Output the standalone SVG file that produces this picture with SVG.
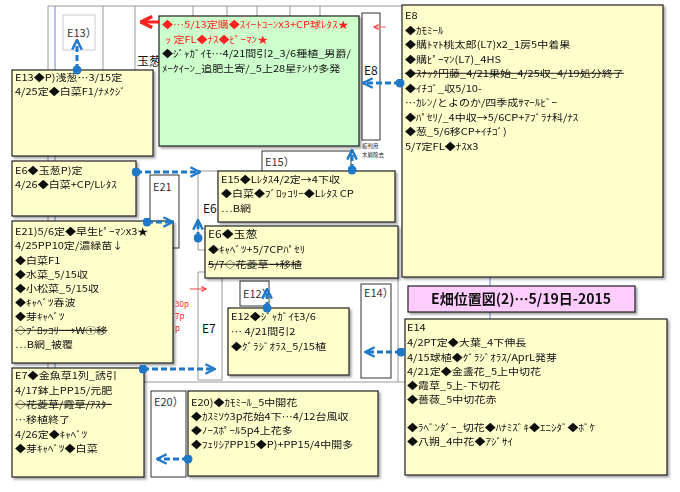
<svg xmlns="http://www.w3.org/2000/svg" width="680" height="492" viewBox="0 0 680 492">
<style>
text{font-family:"Noto Sans CJK JP","Noto Sans CJK SC",sans-serif;font-size:11px;fill:#111}
.tx text{font-size:9.6px}
.note{fill:#ffffcc;stroke:#222;stroke-width:1.2}
.green{fill:#ccffcc;stroke:#222;stroke-width:1.2}
.wbox{fill:#fff;stroke:#333;stroke-width:1}
.grid{stroke:#999;stroke-width:1;fill:none}
.lbl{font-size:11px;fill:#333}
.red{fill:#ff2020}
.strike{text-decoration:line-through}
.conn{stroke:#1f78c8;stroke-width:3;stroke-dasharray:6,3;fill:none;marker-start:url(#dot);marker-end:url(#chev)}
.tiny{font-size:5.5px;fill:#222}
.rp{font-size:8px;fill:#ff2020}
</style>
<defs>
<filter id="sh" x="-5%" y="-5%" width="115%" height="120%">
<feDropShadow dx="2" dy="2" stdDeviation="1.2" flood-color="#000" flood-opacity="0.35"/>
</filter>
<marker id="chev" viewBox="0 0 10 10" refX="9" refY="5" markerWidth="12" markerHeight="12" markerUnits="userSpaceOnUse" orient="auto">
<path d="M1,1 L9,5 L1,9" fill="none" stroke="#1f78c8" stroke-width="2"/>
</marker>
<marker id="dot" viewBox="0 0 10 10" refX="5" refY="5" markerWidth="9" markerHeight="9" markerUnits="userSpaceOnUse">
<circle cx="5" cy="5" r="5" fill="#1f78c8"/>
</marker>
<marker id="rchev" viewBox="0 0 10 10" refX="9" refY="5" markerWidth="14" markerHeight="14" markerUnits="userSpaceOnUse" orient="auto">
<path d="M1,1 L9,5 L1,9" fill="none" stroke="#ff2020" stroke-width="2.4"/>
</marker>
<marker id="rsmall" viewBox="0 0 10 10" refX="9" refY="5" markerWidth="6" markerHeight="6" markerUnits="userSpaceOnUse" orient="auto">
<path d="M1,1 L9,5 L1,9" fill="none" stroke="#ff4040" stroke-width="2"/>
</marker>
</defs>
<rect width="680" height="492" fill="#fff"/>

<g id="background">
<path class="grid" d="M48,6 H402 M48,6 V370 M103,6 V70 M135,6 V70 M193,6 V16 M227,6 V16 M257,6 V16 M290,6 V16 M320,6 V16"/>
<line x1="55" y1="6" x2="55" y2="368" stroke="#7080e0" stroke-width="1"/>
<line x1="490" y1="277" x2="490" y2="319" stroke="#7080e0" stroke-width="1"/>
<path class="grid" d="M144,382 H405 M398,278 V382 M198,171 H218 M198,171 V250 H205 M198,272 V380 H222 V272 Z"/>
<text x="137" y="66" style="font-size:12px">玉葱</text>
<text x="203" y="213" style="font-size:12px">E6</text>
<text x="202" y="333" style="font-size:12px">E7</text>
<text class="rp" x="175" y="307">30p</text>
<text class="rp" x="175" y="319">7p</text>
<text class="rp" x="175" y="331">p</text>
<line x1="190" y1="289" x2="206" y2="289" stroke="#ff4040" stroke-width="1" marker-end="url(#rsmall)"/>
</g>

<g id="E13box"><rect x="63" y="15" width="32" height="35" fill="#fff" stroke="#ccc"/><text class="lbl" x="67" y="37">E13）</text></g>
<g id="E8col"><rect class="wbox" x="362" y="13" width="18" height="127" stroke="#666"/><text x="364" y="75" style="font-size:12px">E8</text>
<line x1="386" y1="27" x2="374" y2="27" stroke="#ff6060" stroke-width="1" marker-end="url(#rsmall)"/>
<text class="tiny" x="362" y="148">板判用</text><text class="tiny" x="362" y="157">木屑除去</text></g>
<g id="E15box"><rect class="wbox" x="262" y="151" width="89" height="30"/><text class="lbl" x="265" y="166">E15）</text></g>
<g id="E21box"><rect class="wbox" x="150" y="175" width="29" height="73"/><text class="lbl" x="153" y="191">E21</text></g>
<g id="E12box"><rect class="wbox" x="240" y="281" width="29" height="25"/><text class="lbl" x="243" y="298">E12）</text></g>
<g id="E14box"><rect class="wbox" x="361" y="284" width="30" height="94"/><text class="lbl" x="364" y="297">E14）</text></g>
<g id="E20box"><rect class="wbox" x="151" y="391" width="35" height="86"/><text class="lbl" x="154" y="406">E20）</text></g>

<g id="green" filter="url(#sh)">
<rect class="green" x="159" y="16" width="200" height="130"/>
<g class="tx" transform="translate(162,0) scale(1.15,1)">
<text class="red" y="28">◆…5/13定購◆ｽｲｰﾄｺｰﾝx3+CP球ﾚﾀｽ★</text>
<text class="red" x="3" y="43">ｯ 定FL◆ﾅｽ◆ﾋﾟｰﾏﾝ★</text>
<text y="57">◆ｼﾞｬｶﾞｲﾓ…4/21間引2_3/6種植_男爵/</text>
<text y="72">ﾒｰｸｲｰﾝ_追肥土寄/_5上28星ﾃﾝﾄｳ多発</text>
</g>
</g>

<g id="E8" filter="url(#sh)">
<rect class="note" x="402" y="5" width="261" height="272"/>
<g class="tx" transform="translate(405,0) scale(1.15,1)">
<text y="19">E8</text>
<text y="34">◆ｶﾓﾐｰﾙ</text>
<text y="48">◆購ﾄﾏﾄ桃太郎(L7)x2_1房5中着果</text>
<text y="63">◆購ﾋﾟｰﾏﾝ(L7)_4HS</text>
<text class="strike" y="77">◆ｽﾅｯｸ円藤_4/21果始_4/25収_4/19処分終了</text>
<text y="92">◆ｲﾁｺﾞ_収5/10-</text>
<text y="106">…ｶﾚﾝ/とよのか/四季成ｻﾏｰﾙﾋﾞｰ</text>
<text y="121">◆ﾊﾟｾﾘ/_4中収→5/6CP+ｱﾌﾞﾗﾅ科/ﾅｽ</text>
<text y="135">◆葱_5/6移CP+ｲﾁｺﾞ)</text>
<text y="150">5/7定FL◆ﾅｽx3</text>
</g>
</g>

<g id="E13" filter="url(#sh)">
<rect class="note" x="12" y="70" width="141" height="86"/>
<g class="tx" transform="translate(15,0) scale(1.15,1)">
<text y="81">E13◆P)浅葱…3/15定</text>
<text y="95">4/25定◆白菜F1/ﾅﾒｸｼﾞ</text>
</g>
</g>

<g id="E6left" filter="url(#sh)">
<rect class="note" x="12" y="161" width="124" height="55"/>
<g class="tx" transform="translate(15,0) scale(1.15,1)">
<text y="174">E6◆玉葱P)定</text>
<text y="188">4/26◆白菜+CP/Lﾚﾀｽ</text>
</g>
</g>

<g id="E15" filter="url(#sh)">
<rect class="note" x="218" y="171" width="177" height="51"/>
<g class="tx" transform="translate(221,0) scale(1.15,1)">
<text y="183">E15◆Lﾚﾀｽ4/2定→4下収</text>
<text y="197">◆白菜◆ﾌﾞﾛｯｺﾘｰ◆Lﾚﾀｽ CP</text>
<text y="212">…B網</text>
</g>
</g>

<g id="E6" filter="url(#sh)">
<rect class="note" x="205" y="226" width="193" height="52"/>
<g class="tx" transform="translate(208,0) scale(1.15,1)">
<text y="238" style="font-size:10.4px">E6◆玉葱</text>
<text y="253">◆ｷｬﾍﾞﾂ+5/7CPﾊﾟｾﾘ</text>
<text class="strike" y="268">5/7◇花菱草→移植</text>
</g>
</g>

<g id="E21" filter="url(#sh)">
<rect class="note" x="12" y="221" width="161" height="142"/>
<g class="tx" transform="translate(15,0) scale(1.15,1)">
<text y="235">E21)5/6定◆早生ﾋﾟｰﾏﾝx3★</text>
<text y="249">4/25PP10定/濃緑苗↓</text>
<text y="264">◆白菜F1</text>
<text y="278">◆水菜_5/15収</text>
<text y="292">◆小松菜_5/15収</text>
<text y="306">◆ｷｬﾍﾞﾂ春波</text>
<text y="320">◆芽ｷｬﾍﾞﾂ</text>
<text class="strike" y="334">◇ﾌﾞﾛｯｺﾘｰ→W①移</text>
<text y="348">…B網_被覆</text>
</g>
</g>

<g id="E12" filter="url(#sh)">
<rect class="note" x="228" y="308" width="121" height="67"/>
<g class="tx" transform="translate(231,0) scale(1.15,1)">
<text y="320">E12◆ｼﾞｬｶﾞｲﾓ3/6</text>
<text y="335">… 4/21間引2</text>
<text y="350">◆ｸﾞﾗｼﾞｵﾗｽ_5/15植</text>
</g>
</g>

<g id="title" filter="url(#sh)">
<rect x="408" y="286" width="227" height="26" fill="#ffccff" stroke="#222" stroke-width="1.2"/>
<text x="521" y="304" text-anchor="middle" style="font-size:14px;font-weight:bold">E畑位置図(2)…5/19日-2015</text>
</g>

<g id="E14" filter="url(#sh)">
<rect class="note" x="405" y="319" width="262" height="156"/>
<g class="tx" transform="translate(407,0) scale(1.15,1)">
<text y="331">E14</text>
<text y="346">4/2PT定◆大葉_4下伸長</text>
<text y="361">4/15球植◆ｸﾞﾗｼﾞｵﾗｽ/AprL発芽</text>
<text y="375">4/21定◆金盞花_5上中切花</text>
<text y="389">◆霞草_5上-下切花</text>
<text y="403">◆薔薇_5中切花赤</text>
<text y="431">◆ﾗﾍﾞﾝﾀﾞｰ_切花◆ﾊﾅﾐｽﾞｷ◆ｴﾆｼﾀﾞ◆ﾎﾞｹ</text>
<text y="445">◆八朔_4中花◆ｱｼﾞｻｲ</text>
</g>
</g>

<g id="E7" filter="url(#sh)">
<rect class="note" x="12" y="368" width="132" height="109"/>
<g class="tx" transform="translate(15,0) scale(1.15,1)">
<text y="379">E7◆金魚草1列_誘引</text>
<text y="394">4/17鉢上PP15/元肥</text>
<text class="strike" y="408">◇花菱草/霞草/ｱｽﾀｰ</text>
<text y="423">…移植終了</text>
<text y="438">4/26定◆ｷｬﾍﾞﾂ</text>
<text y="452">◆芽ｷｬﾍﾞﾂ◆白菜</text>
</g>
</g>

<g id="E20" filter="url(#sh)">
<rect class="note" x="188" y="391" width="190" height="85"/>
<g class="tx" transform="translate(191,0) scale(1.15,1)">
<text y="406">E20)◆ｶﾓﾐｰﾙ_5中開花</text>
<text y="420">◆ｶｽﾐｿｳ3p花始4下…4/12台風収</text>
<text y="434">◆ﾉｰｽﾎﾟｰﾙ5p4上花多</text>
<text y="448">◆ﾌｪﾘｼｱPP15◆P)+PP15/4中開多</text>
</g>
</g>

<g id="connectors">
<line x1="160" y1="22" x2="141" y2="22" stroke="#ff2020" stroke-width="3" marker-end="url(#rchev)"/>
<line class="conn" x1="77" y1="70" x2="77" y2="40"/>
<line class="conn" x1="400" y1="83" x2="363" y2="83"/>
<line class="conn" x1="136" y1="172" x2="200" y2="172"/>
<line class="conn" x1="147" y1="222" x2="173" y2="222"/>
<line class="conn" x1="198" y1="238" x2="198" y2="220"/>
<line class="conn" x1="352" y1="170" x2="352" y2="150"/>
<line class="conn" x1="267" y1="308" x2="267" y2="289"/>
<line class="conn" x1="401" y1="352" x2="365" y2="352"/>
<line class="conn" x1="143" y1="369" x2="215" y2="369"/>
<line class="conn" x1="188" y1="459" x2="157" y2="459"/>
</g>
</svg>
